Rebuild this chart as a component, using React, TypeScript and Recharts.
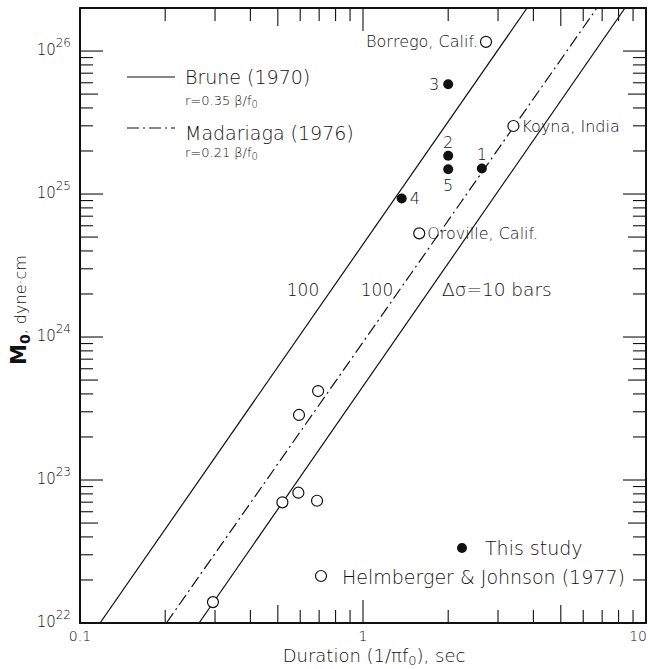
import React from 'react';
import { ComposedChart, Scatter, XAxis, YAxis, Customized, ReferenceArea } from 'recharts';

const FONT = '"DejaVu Sans", Verdana, sans-serif';
const INK = '#111';

// axes (log-log)
const xDomain: [number, number] = [0.1, 10];
const yDomain: [number, number] = [1e22, 2e26];
const decadesX = [0.1, 1, 10];
const decadesY = [1e22, 1e23, 1e24, 1e25, 1e26];
const minorSteps = [2, 3, 4, 5, 6, 7, 8, 9];

// this study (filled dots)
const studyLabels = ['1', '2', '3', '4', '5'];
const studyDuration = [2.63, 2.0, 2.0, 1.37, 2.0];
const studyMoment = [1.51e25, 1.85e25, 5.85e25, 9.3e24, 1.49e25];

// Helmberger & Johnson (1977) and other events (open circles)
const otherLabels = ['Borrego, Calif.', 'Koyna, India', 'Oroville, Calif.', '', '', '', '', '', ''];
const otherDuration = [2.72, 3.4, 1.58, 0.694, 0.594, 0.591, 0.688, 0.519, 0.295];
const otherMoment = [1.16e26, 2.99e25, 5.31e24, 4.19e23, 2.85e23, 8.15e22, 7.16e22, 6.98e22, 1.4e22];

// constant stress drop lines (end points)
const brune100Duration = [0.1177, 3.8];
const brune100Moment = [1e22, 2e26];
const madariaga100Duration = [0.202, 6.71];
const madariaga100Moment = [1e22, 2e26];
const brune10Duration = [0.2634, 8.43];
const brune10Moment = [1e22, 2e26];

const toPoints = (xs: number[], ys: number[], labels?: string[]) =>
  xs.map((x, i) => ({ x, y: ys[i], label: labels ? labels[i] : '' }));

const studyPoints = toPoints(studyDuration, studyMoment, studyLabels);
const otherPoints = toPoints(otherDuration, otherMoment, otherLabels);
const brune100 = toPoints(brune100Duration, brune100Moment);
const madariaga100 = toPoints(madariaga100Duration, madariaga100Moment);
const brune10 = toPoints(brune10Duration, brune10Moment);

const buildTicks = (decades: number[], [lo, hi]: [number, number]) => {
  const out: number[] = [];
  decades.forEach((d) => {
    out.push(d);
    minorSteps.forEach((s) => out.push(d * s));
  });
  return out.filter((v) => v >= lo * (1 - 1e-6) && v <= hi * (1 + 1e-6));
};
const xTicks = buildTicks(decadesX, xDomain);
const yTicks = buildTicks(decadesY, yDomain).filter((v) => v < 1.9e26);

const mantissa = (v: number) => Math.round(v / Math.pow(10, Math.floor(Math.log10(v) + 1e-9)));
const isDecade = (v: number) => mantissa(v) === 1;
const tickLength = (v: number) => (isDecade(v) ? 23 : mantissa(v) === 5 ? 18 : 13);

const BottomTick = (props: any) => {
  const { x, y, payload } = props;
  const v = Number(payload.value);
  const last = v >= xDomain[1] * 0.999;
  return (
    <g>
      <line x1={x} x2={x} y1={y} y2={y - tickLength(v)} stroke={INK} strokeWidth={1.1} />
      {isDecade(v) && (
        <text
          x={last ? 647 : x}
          y={y + 18}
          textAnchor={last ? 'end' : 'middle'}
          fontSize={14}
          fontFamily={FONT}
          fontWeight={300}
          fill={INK}
        >
          {String(v)}
        </text>
      )}
    </g>
  );
};

const TopTick = (props: any) => {
  const { x, y, payload } = props;
  const v = Number(payload.value);
  return <line x1={x} x2={x} y1={y} y2={y + tickLength(v)} stroke={INK} strokeWidth={1.1} />;
};

const LeftTick = (props: any) => {
  const { x, y, payload } = props;
  const v = Number(payload.value);
  const exp = Math.round(Math.log10(v));
  return (
    <g>
      <line x1={x} x2={x + tickLength(v)} y1={y} y2={y} stroke={INK} strokeWidth={1.1} />
      {isDecade(v) && (
        <text x={x - 9} y={y + 4} textAnchor="end" fontSize={15} fontFamily={FONT} fontWeight={300} fill={INK}>
          10
          <tspan dy={-8} fontSize={12}>
            {exp}
          </tspan>
        </text>
      )}
    </g>
  );
};

const RightTick = (props: any) => {
  const { x, y, payload } = props;
  const v = Number(payload.value);
  return <line x1={x} x2={x - tickLength(v)} y1={y} y2={y} stroke={INK} strokeWidth={1.1} />;
};

const placement: Record<string, { dx: number; dy: number; anchor: string; size: number }> = {
  '1': { dx: 0, dy: -14, anchor: 'middle', size: 16 },
  '2': { dx: 0, dy: -13, anchor: 'middle', size: 16 },
  '3': { dx: -9, dy: 0, anchor: 'end', size: 16 },
  '4': { dx: 8, dy: 0, anchor: 'start', size: 16 },
  '5': { dx: 0, dy: 16, anchor: 'middle', size: 16 },
  'Borrego, Calif.': { dx: -8, dy: 0, anchor: 'end', size: 16 },
  'Koyna, India': { dx: 8, dy: 0, anchor: 'start', size: 16 },
  'Oroville, Calif.': { dx: 8, dy: 0, anchor: 'start', size: 16 },
};

const PointLabel = ({ cx, cy, label }: { cx: number; cy: number; label: string }) => {
  const p = placement[label];
  if (!p) return null;
  return (
    <text
      x={cx + p.dx}
      y={cy + p.dy}
      textAnchor={p.anchor as any}
      dominantBaseline="central"
      fontSize={p.size}
      fontFamily={FONT}
      fontWeight={300}
      fill={INK}
    >
      {label}
    </text>
  );
};

const FilledDot = (props: any) => {
  const { cx, cy, payload } = props;
  return (
    <g>
      <circle cx={cx} cy={cy} r={5} fill={INK} />
      <PointLabel cx={cx} cy={cy} label={payload.label} />
    </g>
  );
};

const OpenDot = (props: any) => {
  const { cx, cy, payload } = props;
  return (
    <g>
      <circle cx={cx} cy={cy} r={5.5} fill="#fff" stroke={INK} strokeWidth={1.2} />
      <PointLabel cx={cx} cy={cy} label={payload.label} />
    </g>
  );
};

const NoDot = () => <g />;

const Annotations = () => (
  <g fontFamily={FONT} fontWeight={300} fill={INK}>
    {/* line legend */}
    <line x1={127} x2={175} y1={77} y2={77} stroke={INK} strokeWidth={1.2} />
    <text x={185} y={84} fontSize={19}>Brune (1970)</text>
    <text x={185} y={105} fontSize={13}>
      r=0.35  β/f<tspan dy={3} fontSize={10}>0</tspan>
    </text>
    <line x1={127} x2={175} y1={128} y2={128} stroke={INK} strokeWidth={1.2} strokeDasharray="12 4 2 4" />
    <text x={185} y={140} fontSize={19}>Madariaga (1976)</text>
    <text x={185} y={157} fontSize={13}>
      r=0.21  β/f<tspan dy={3} fontSize={10}>0</tspan>
    </text>

    {/* stress drop labels */}
    <text x={303} y={296} textAnchor="middle" fontSize={17}>100</text>
    <text x={377} y={296} textAnchor="middle" fontSize={17}>100</text>
    <text x={442} y={296} fontSize={18.5}>Δσ=10 bars</text>

    {/* symbol legend */}
    <circle cx={462} cy={548} r={5} fill={INK} />
    <text x={485} y={555} fontSize={19}>This study</text>
    <circle cx={321} cy={576} r={5.5} fill="#fff" stroke={INK} strokeWidth={1.2} />
    <text x={342} y={584} fontSize={19}>Helmberger &amp; Johnson (1977)</text>

    {/* axis titles */}
    <text x={374} y={662} textAnchor="middle" fontSize={18}>
      Duration (1/πf<tspan dy={3} fontSize={13}>0</tspan>
      <tspan dy={-3}>), sec</tspan>
    </text>
    <text transform="rotate(-90)" x={-310} y={26} textAnchor="middle" fontSize={16}>
      <tspan fontWeight="bold" fontSize={21}>M</tspan>
      <tspan dy={4} fontSize={14} fontWeight="bold">0</tspan>
      <tspan dy={-4}>,  dyne·cm</tspan>
    </text>
  </g>
);

const axisLine = { stroke: INK, strokeWidth: 1.8 };

export default function App() {
  return (
    <div style={{ position: 'absolute', left: 0, top: 0, width: 648, height: 669, background: '#fff' }}>
      <ComposedChart width={648} height={669} margin={{ top: 7, right: 1, bottom: 0, left: 0 }}>
        <XAxis
          xAxisId="bottom"
          dataKey="x"
          type="number"
          scale="log"
          domain={xDomain}
          allowDataOverflow
          ticks={xTicks}
          interval={0}
          height={46}
          tickSize={0}
          tickMargin={0}
          tickLine={false}
          axisLine={axisLine}
          tick={<BottomTick />}
        />
        <XAxis
          xAxisId="top"
          orientation="top"
          dataKey="x"
          type="number"
          scale="log"
          domain={xDomain}
          allowDataOverflow
          ticks={xTicks}
          interval={0}
          height={1}
          tickSize={0}
          tickMargin={0}
          tickLine={false}
          axisLine={axisLine}
          tick={<TopTick />}
        />
        <YAxis
          yAxisId="left"
          dataKey="y"
          type="number"
          scale="log"
          domain={yDomain}
          allowDataOverflow
          ticks={yTicks}
          interval={0}
          width={80}
          tickSize={0}
          tickMargin={0}
          tickLine={false}
          axisLine={axisLine}
          tick={<LeftTick />}
        />
        <YAxis
          yAxisId="right"
          orientation="right"
          dataKey="y"
          type="number"
          scale="log"
          domain={yDomain}
          allowDataOverflow
          ticks={yTicks}
          interval={0}
          width={1}
          tickSize={0}
          tickMargin={0}
          tickLine={false}
          axisLine={axisLine}
          tick={<RightTick />}
        />
        <ReferenceArea
          xAxisId="bottom"
          yAxisId="left"
          x1={xDomain[0]}
          x2={xDomain[1]}
          y1={yDomain[0]}
          y2={yDomain[1]}
          fill="none"
          fillOpacity={0}
          stroke={INK}
          strokeWidth={1.8}
          ifOverflow="visible"
        />
        <Scatter
          xAxisId="bottom"
          yAxisId="left"
          data={brune100}
          fill={INK}
          line={{ stroke: INK, strokeWidth: 1.2 }}
          shape={<NoDot />}
          isAnimationActive={false}
        />
        <Scatter
          xAxisId="bottom"
          yAxisId="left"
          data={madariaga100}
          fill={INK}
          line={{ stroke: INK, strokeWidth: 1.2, strokeDasharray: '12 4 2 4' }}
          shape={<NoDot />}
          isAnimationActive={false}
        />
        <Scatter
          xAxisId="bottom"
          yAxisId="left"
          data={brune10}
          fill={INK}
          line={{ stroke: INK, strokeWidth: 1.2 }}
          shape={<NoDot />}
          isAnimationActive={false}
        />
        <Scatter
          xAxisId="bottom"
          yAxisId="left"
          data={otherPoints}
          shape={<OpenDot />}
          isAnimationActive={false}
        />
        <Scatter
          xAxisId="bottom"
          yAxisId="left"
          data={studyPoints}
          shape={<FilledDot />}
          isAnimationActive={false}
        />
        <Customized component={<Annotations />} />
      </ComposedChart>
    </div>
  );
}
